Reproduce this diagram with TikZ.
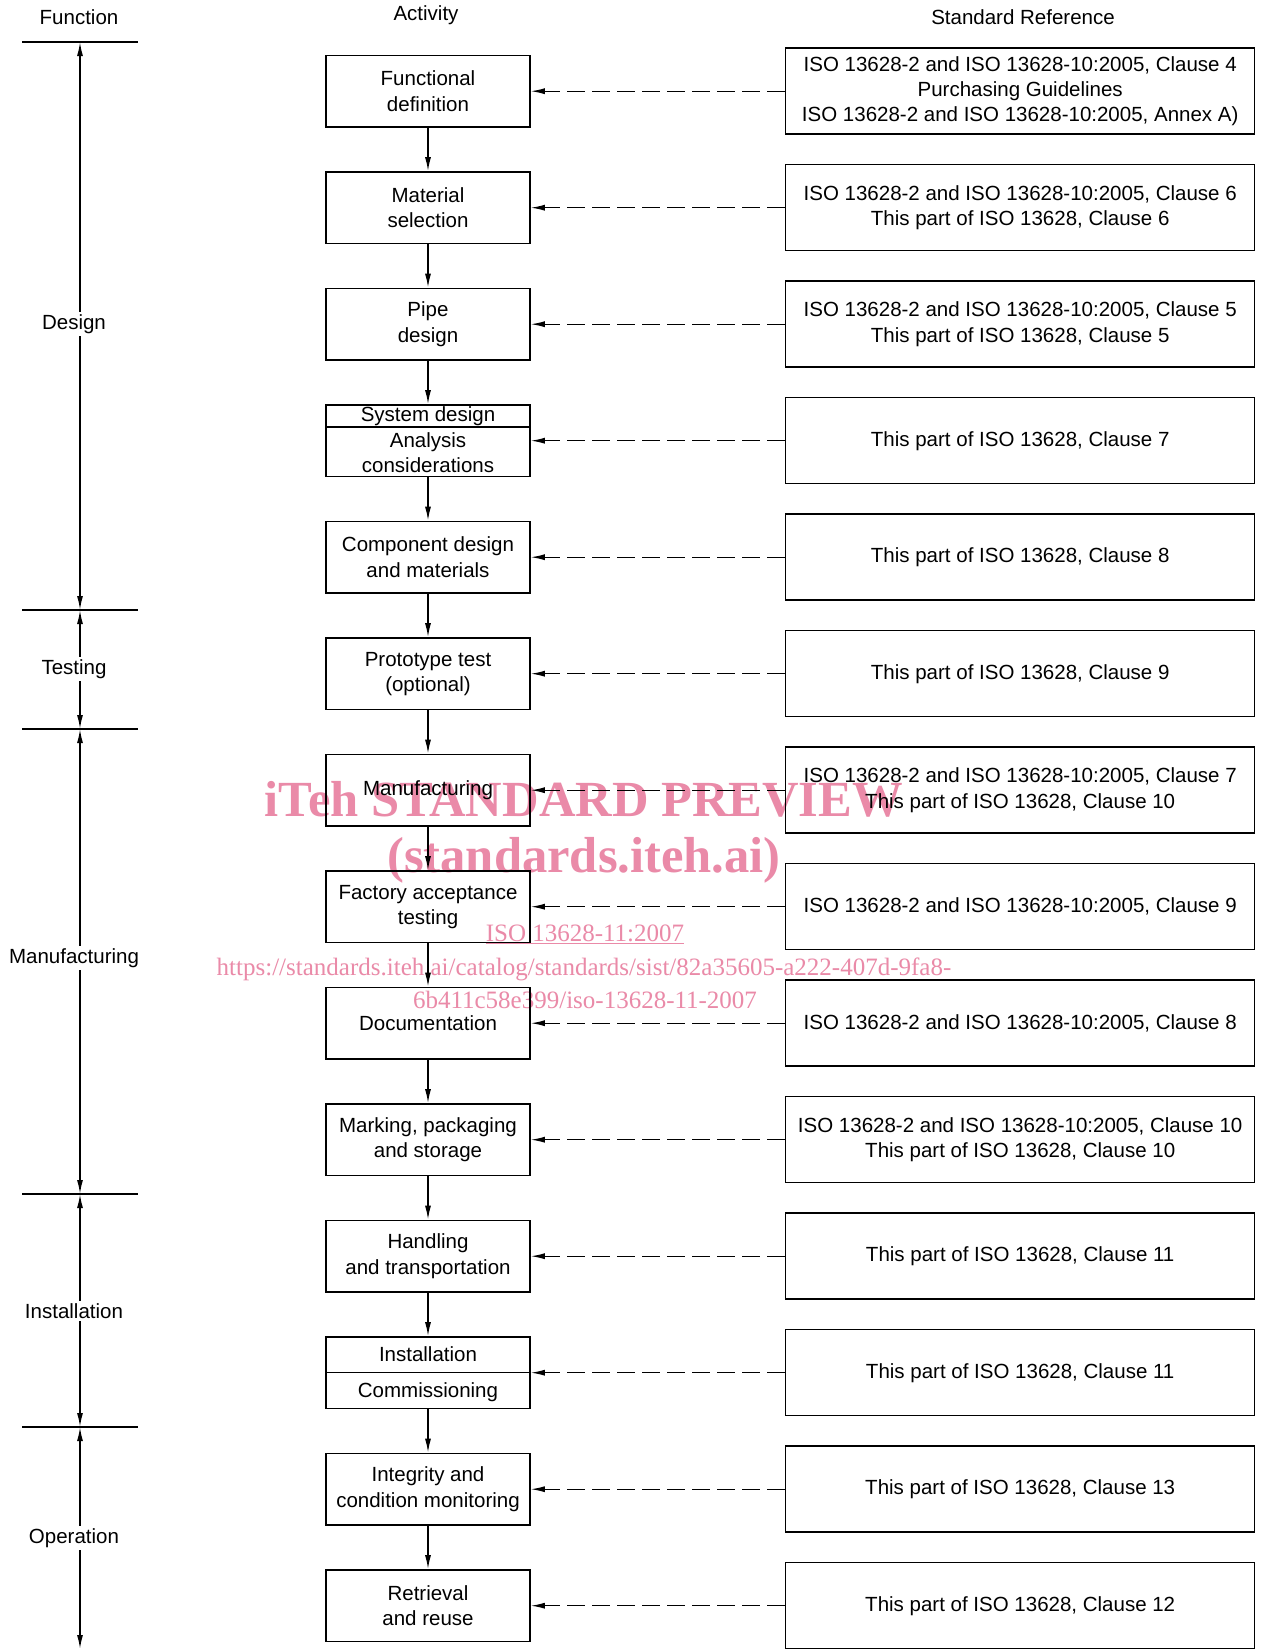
\documentclass[tikz,border=0pt]{standalone}
\usepackage{fontspec}
\setmainfont{Liberation Sans}
\newfontfamily\wmfont{Liberation Serif}
\usetikzlibrary{arrows.meta,calc}
\definecolor{wmpink}{RGB}{234,138,168}
\begin{document}
\begin{tikzpicture}[x=1pt,y=-1pt,
  every node/.style={font=\fontsize{20.5}{25.2}\selectfont},
  actbox/.style={draw, line width=1.5pt, minimum width=204pt, minimum height=71.5pt, align=center, inner sep=0pt},
  refbox/.style={draw, line width=1.5pt, minimum width=469pt, minimum height=86pt, align=center, inner sep=0pt},
  flow/.style={line width=1.5pt, -{Latex[length=14pt,width=6pt]}},
  refarrow/.style={line width=1.3pt, dash pattern=on 18pt off 7pt, -{Latex[length=14pt,width=6pt]}},
  phase/.style={line width=1.5pt, {Latex[length=14pt,width=6pt]}-{Latex[length=14pt,width=6pt]}},
  tickline/.style={line width=1.5pt},
  divider/.style={line width=1.5pt},
  phaselabel/.style={fill=white, inner sep=2pt},
  wmbig/.style={text=wmpink, font=\wmfont\bfseries\fontsize{50.6}{55}\selectfont},
  wmsmall/.style={text=wmpink, font=\wmfont\fontsize{25}{28}\selectfont}
]
\useasboundingbox (0,0) rectangle (1261,1649);
\fill[white] (0,0) rectangle (1261,1649);

% watermark (behind)
\node[wmbig] (wm1) at (584,799) {iTeh STANDARD PREVIEW};
\node[wmbig] (wm2) at (584,860) {(standards.iteh.ai)};
\node[wmsmall] (wm3) at (585,934) {\underline{ISO 13628-11:2007}};
\node[wmsmall] (wm4) at (584,969) {https://standards.iteh.ai/catalog/standards/sist/82a35605-a222-407d-9fa8-};
\node[wmsmall] (wm5) at (585,1000) {6b411c58e399/iso-13628-11-2007};

% headers
\node (hf) at (79,17) {Function};
\node (ha) at (426,15) {Activity};
\node (hr) at (1023,17) {Standard Reference};

% activity boxes
\node[actbox] (a1) at (428,91.2) {Functional\\definition};
\node[actbox] (a2) at (428,207.7) {Material\\selection};
\node[actbox] (a3) at (428,324.2) {Pipe\\design};
\node[actbox] (a4) at (428,440.7) {};
\node[actbox] (a5) at (428,557.2) {Component design\\and materials};
\node[actbox] (a6) at (428,673.7) {Prototype test\\(optional)};
\node[actbox] (a7) at (428,790.2) {Manufacturing};
\node[actbox] (a8) at (428,906.7) {Factory acceptance\\testing};
\node[actbox] (a9) at (428,1023.2) {Documentation};
\node[actbox] (a10) at (428,1139.7) {Marking, packaging\\and storage};
\node[actbox] (a11) at (428,1256.2) {Handling\\and transportation};
\node[actbox] (a12) at (428,1372.7) {};
\node[actbox] (a13) at (428,1489.2) {Integrity and\\condition monitoring};
\node[actbox] (a14) at (428,1605.7) {Retrieval\\and reuse};

% split boxes
\coordinate (a4d) at ($(a4.north west)+(0,23)$);
\draw[divider] (a4d) -- (a4d -| a4.east);
\node (a4t) at ($(a4.north)+(0,11.5)$) {System design};
\node[align=center] (a4b) at ($(a4.south)+(0,-24.5)$) {Analysis\\considerations};
\draw[divider] (a12.west) -- (a12.east);
\node (a12t) at ($(a12.north)+(0,17.5)$) {Installation};
\node (a12b) at ($(a12.south)+(0,-17.5)$) {Commissioning};

% reference boxes
\node[refbox] (r1) at (1020.2,91.2) {ISO 13628-2 and ISO 13628-10:2005, Clause 4\\Purchasing Guidelines\\ISO 13628-2 and ISO 13628-10:2005, Annex A)};
\node[refbox] (r2) at (1020.2,207.7) {ISO 13628-2 and ISO 13628-10:2005, Clause 6\\This part of ISO 13628, Clause 6};
\node[refbox] (r3) at (1020.2,324.2) {ISO 13628-2 and ISO 13628-10:2005, Clause 5\\This part of ISO 13628, Clause 5};
\node[refbox] (r4) at (1020.2,440.7) {This part of ISO 13628, Clause 7};
\node[refbox] (r5) at (1020.2,557.2) {This part of ISO 13628, Clause 8};
\node[refbox] (r6) at (1020.2,673.7) {This part of ISO 13628, Clause 9};
\node[refbox] (r7) at (1020.2,790.2) {ISO 13628-2 and ISO 13628-10:2005, Clause 7\\This part of ISO 13628, Clause 10};
\node[refbox] (r8) at (1020.2,906.7) {ISO 13628-2 and ISO 13628-10:2005, Clause 9};
\node[refbox] (r9) at (1020.2,1023.2) {ISO 13628-2 and ISO 13628-10:2005, Clause 8};
\node[refbox] (r10) at (1020.2,1139.7) {ISO 13628-2 and ISO 13628-10:2005, Clause 10\\This part of ISO 13628, Clause 10};
\node[refbox] (r11) at (1020.2,1256.2) {This part of ISO 13628, Clause 11};
\node[refbox] (r12) at (1020.2,1372.7) {This part of ISO 13628, Clause 11};
\node[refbox] (r13) at (1020.2,1489.2) {This part of ISO 13628, Clause 13};
\node[refbox] (r14) at (1020.2,1605.7) {This part of ISO 13628, Clause 12};

% flow arrows
\foreach \i [evaluate=\i as \j using int(\i+1)] in {1,...,13}
  \draw[flow] (a\i.south) -- (a\j.north);

% reference arrows
\foreach \i in {1,...,14}
  \draw[refarrow] (r\i.west) -- (a\i.east);

% phase scale
\coordinate (t1) at (80,42);
\coordinate (t2) at (80,610);
\coordinate (t3) at (80,729);
\coordinate (t4) at (80,1194);
\coordinate (t5) at (80,1427);
\coordinate (t6) at (80,1649);
\foreach \k in {1,...,5}
  \draw[tickline] ($(t\k)+(-58,0)$) -- ($(t\k)+(58,0)$);
\draw[phase] (t1) -- (t2);
\draw[phase] (t2) -- (t3);
\draw[phase] (t3) -- (t4);
\draw[phase] (t4) -- (t5);
\draw[phase] (t5) -- (t6);
\node[phaselabel] (pd) at (74,324) {Design};
\node[phaselabel] (pt) at (74,669) {Testing};
\node[phaselabel] (pm) at (74,958) {Manufacturing};
\node[phaselabel] (pi) at (74,1311) {Installation};
\node[phaselabel] (po) at (74,1538) {Operation};
\end{tikzpicture}
\end{document}
